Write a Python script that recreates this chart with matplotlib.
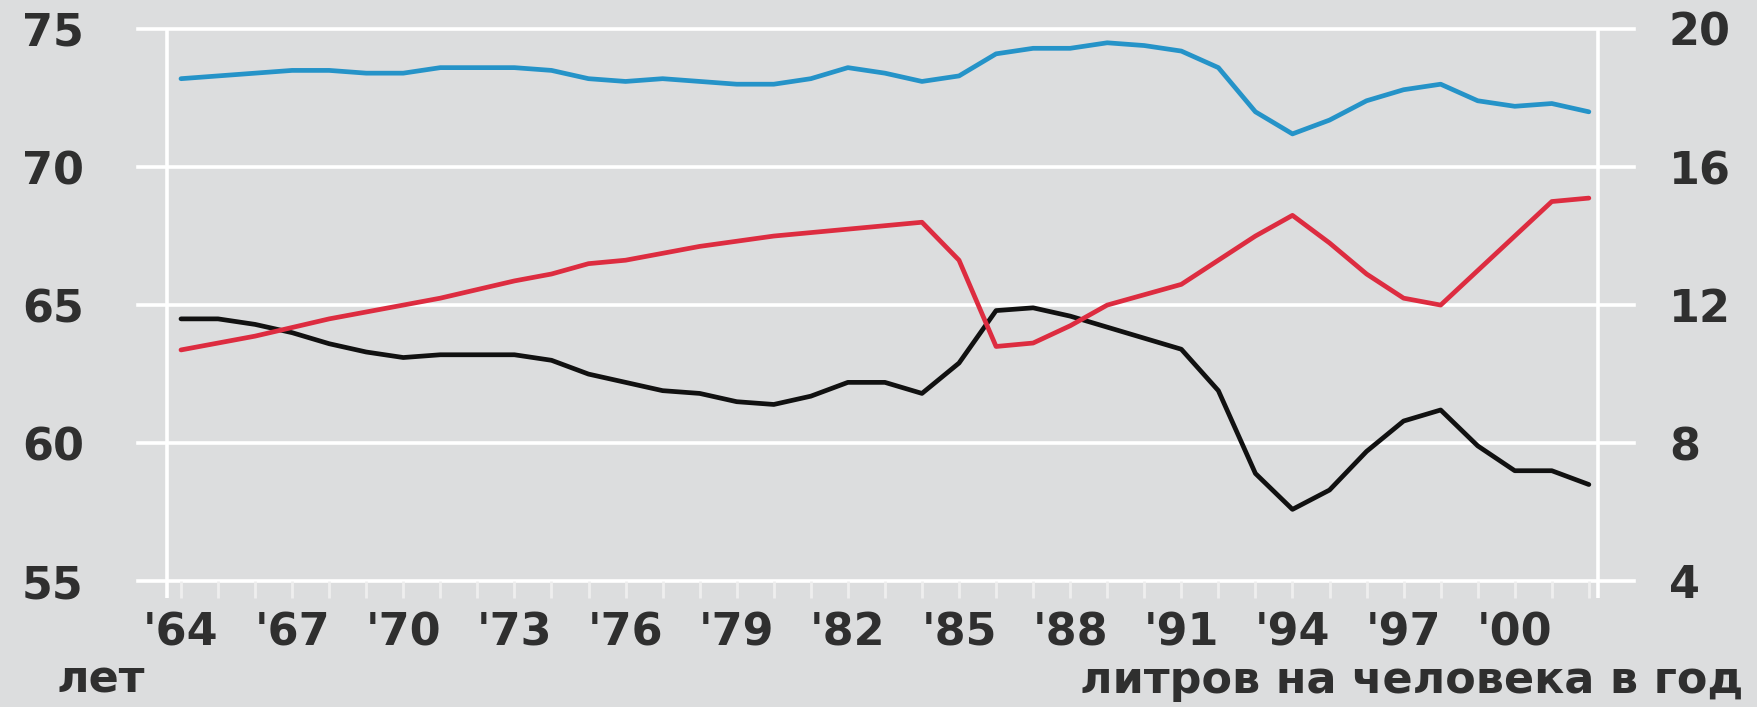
import numpy as np
import matplotlib.pyplot as plt
from matplotlib.ticker import FixedLocator

# data (1964-2002)
years = list(range(1964, 2003))
female_le = [73.2, 73.3, 73.4, 73.5, 73.5, 73.4, 73.4, 73.6, 73.6, 73.6,
             73.5, 73.2, 73.1, 73.2, 73.1, 73.0, 73.0, 73.2, 73.6, 73.4,
             73.1, 73.3, 74.1, 74.3, 74.3, 74.5, 74.4, 74.2, 73.6, 72.0,
             71.2, 71.7, 72.4, 72.8, 73.0, 72.4, 72.2, 72.3, 72.0]
male_le = [64.5, 64.5, 64.3, 64.0, 63.6, 63.3, 63.1, 63.2, 63.2, 63.2,
           63.0, 62.5, 62.2, 61.9, 61.8, 61.5, 61.4, 61.7, 62.2, 62.2,
           61.8, 62.9, 64.8, 64.9, 64.6, 64.2, 63.8, 63.4, 61.9, 58.9,
           57.6, 58.3, 59.7, 60.8, 61.2, 59.9, 59.0, 59.0, 58.5]
alcohol = [10.7, 10.9, 11.1, 11.35, 11.6, 11.8, 12.0, 12.2, 12.45, 12.7,
           12.9, 13.2, 13.3, 13.5, 13.7, 13.85, 14.0, 14.1, 14.2, 14.3,
           14.4, 13.3, 10.8, 10.9, 11.4, 12.0, 12.3, 12.6, 13.3, 14.0,
           14.6, 13.8, 12.9, 12.2, 12.0, 13.0, 14.0, 15.0, 15.1]

left_ticks = [55, 60, 65, 70, 75]
right_ticks = [4, 8, 12, 16, 20]
label_years = list(range(1964, 2001, 3))
year_labels = ["'" + str(y)[2:] for y in label_years]

bg = '#dcddde'
txt = '#2f2f2f'
fs = 32

fig = plt.figure(figsize=(17.58, 7.07), dpi=100, facecolor=bg)
ax = fig.add_axes([0.0785, 0.178, 0.851, 0.781])
ax.set_facecolor(bg)
ax.set_xlim(1962.84, 2003.22)
ax.set_ylim(55, 75)

# white grid and frame lines
for v in left_ticks:
    ax.axhline(v, color='white', lw=2.6, clip_on=False, zorder=1)
ax.vlines([1963.62, 2002.25], 54.4, 75, color='white', lw=2.6,
          clip_on=False, zorder=1)

ax.plot(years, female_le, color='#2593c8', lw=3.4, zorder=3,
        solid_joinstyle='round', solid_capstyle='round')
ax.plot(years, male_le, color='#111111', lw=3.4, zorder=3,
        solid_joinstyle='round', solid_capstyle='round')

ax2 = ax.twinx()
ax2.set_ylim(4, 20)
ax2.plot(years, alcohol, color='#dd2c40', lw=3.4, zorder=3,
         solid_joinstyle='round', solid_capstyle='round')

for a in (ax, ax2):
    for s in a.spines.values():
        s.set_visible(False)

ax.xaxis.set_major_locator(FixedLocator(label_years))
ax.set_xticklabels(year_labels)
ax.xaxis.set_minor_locator(FixedLocator(years))
ax.tick_params(axis='x', which='both', direction='out', length=12, width=2,
               color='#eeeeee', pad=10, labelsize=fs, labelcolor=txt)
for lab in ax.get_xticklabels():
    lab.set_fontweight('bold')

ax.set_yticks(left_ticks)
ax.tick_params(axis='y', length=0, pad=39, labelsize=fs, labelcolor=txt)
ax2.set_yticks(right_ticks)
ax2.tick_params(axis='y', length=0, pad=25, labelsize=fs, labelcolor=txt)
for lab in ax.get_yticklabels() + ax2.get_yticklabels():
    lab.set_fontweight('bold')

fig.text(57 / 1758, 1 - 680 / 707, 'лет', ha='left', va='center',
         fontsize=fs, color=txt, fontweight='bold')
fig.text(1743 / 1758, 1 - 680 / 707, 'литров на человека в год',
         ha='right', va='center', fontsize=fs, color=txt, fontweight='bold')

fig.savefig('out.png', dpi=100, facecolor=bg)
